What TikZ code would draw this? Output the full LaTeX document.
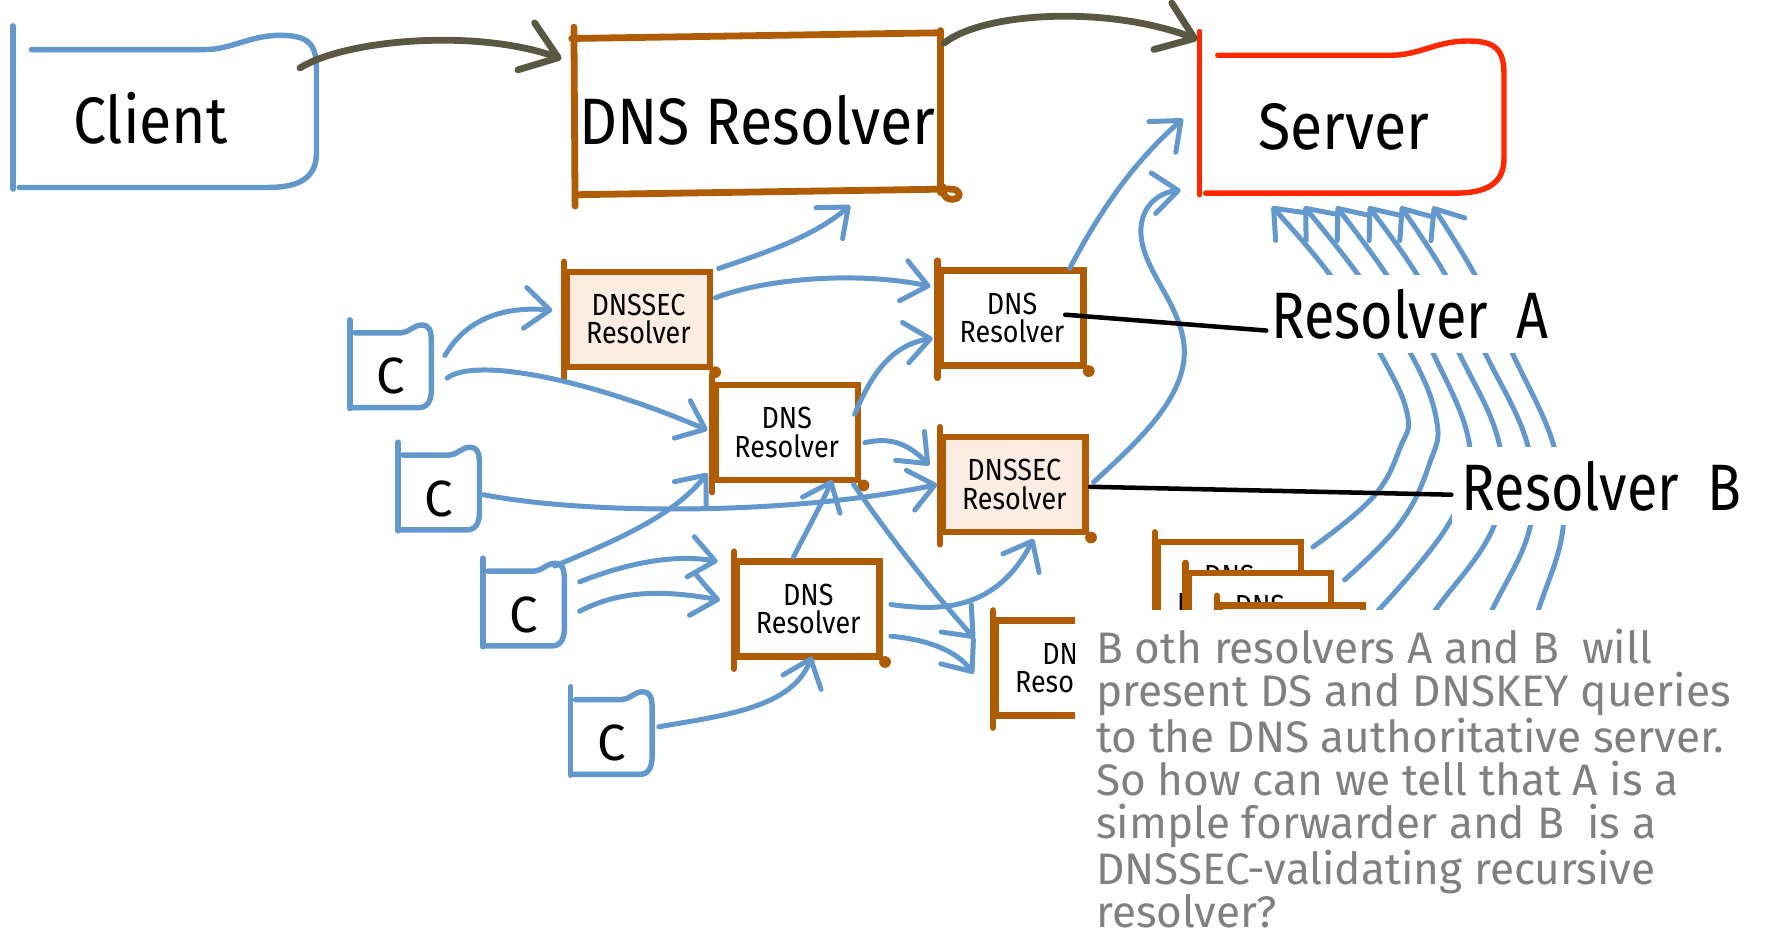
\documentclass[tikz,border=0pt]{standalone}
\usepackage{fontspec}
\setmainfont{Fira Sans}
\usepackage{graphicx}
\usetikzlibrary{arrows.meta}

\definecolor{blu}{RGB}{98,152,204}
\definecolor{brn}{RGB}{176,92,4}
\definecolor{peach}{RGB}{252,236,225}
\definecolor{srv}{RGB}{255,40,0}
\definecolor{olive}{RGB}{90,88,66}
\definecolor{notegray}{RGB}{128,128,128}

% narrow hand-lettered look
\newcommand\hw[2][0.88]{\scalebox{#1}[1]{#2}}

\tikzset{
  bline/.style={draw=blu, line width=2.2pt, line cap=round, line join=round},
  barrow/.style={bline, -{Straight Barb[round,length=11pt,width=18pt]}},
  darrow/.style={draw=olive, line width=3pt, line cap=round, -{Straight Barb[round,length=15pt,width=22pt]}},
  outline/.style={line width=2.4pt, line cap=round, line join=round},
  bigtext/.style={font=\fontsize{29}{30}\selectfont, inner sep=0pt, text depth=0pt},
  rbox/.style={draw=brn, line width=2.8pt, minimum width=63pt, minimum height=42pt,
    inner sep=0pt, align=center, font=\fontsize{13.5}{12.5}\selectfont},
  cbox/.style={minimum width=36pt, minimum height=38pt, inner sep=0pt,
    font=\fontsize{22.5}{24}\selectfont, text height=25.5pt, text depth=0pt},
  leader/.style={draw=black, line width=2pt, line cap=round},
  tag/.style={fill=white, inner sep=0pt, font=\fontsize{29}{30}\selectfont, minimum height=34.5pt},
}

% hand-drawn "folder" outline fitted to a node
\newcommand\folder[4]{%
  \begin{scope}[shift={(#2.north west)}, xscale=#3, yscale=#4]
    \draw[outline, draw=#1] (0,-0.02) -- (0,1.01);
    \draw[outline, draw=#1] (0.06,0.13) -- (0.63,0.13)
      .. controls (0.72,0.13) and (0.78,0.04) .. (0.88,0.04)
      .. controls (0.97,0.04) and (1,0.09) .. (1,0.25) -- (1,0.78)
      .. controls (1,0.93) and (0.95,1) .. (0.84,1) -- (0.02,1);
  \end{scope}}

% resolver box with overshooting left stroke and a knob at the corner
\newcommand\resbox[4]{%
  \node[rbox, fill=#3] (#1) at (#2) {#4};
  \draw[draw=brn, line width=2.8pt, line cap=round] ([yshift=3pt]#1.north west) -- ([yshift=-4pt]#1.south west);
  \fill[brn] ([shift={(1pt,-1pt)}]#1.south east) circle (2.6pt);}

\begin{document}
\begin{tikzpicture}[x=0.5pt, y=-0.5pt]
\path[use as bounding box, fill=white] (0,0) rectangle (1568,826);

% main chain
\node[bigtext, minimum width=134pt, minimum height=70pt, text height=30.5pt] (client) at (146,96) {\hw[0.9]{Client}\hspace*{13pt}};
\folder{blu}{client}{268}{140}

\node[bigtext, minimum width=162pt, minimum height=71pt, text height=27.5pt] (bigres) at (669,100) {\hw[0.9]{DNS Resolver}};
\draw[draw=brn, line width=3pt, line cap=round] (507,24) -- (508,182);
\draw[draw=brn, line width=3pt, line cap=round] (505,34) -- (828,29);
\draw[draw=brn, line width=3pt, line cap=round] (831,27) -- (831,170);
\draw[draw=brn, line width=3pt, line cap=round] (509,172) -- (838,167)
  .. controls (850,166) and (850,177) .. (840,176) .. controls (833,175) and (832,168) .. (833,165);

\node[bigtext, minimum width=134.5pt, minimum height=70pt, text height=31pt] (server) at (1194.5,101) {\hw[0.9]{Server}\hspace*{7.5pt}};
\folder{srv}{server}{269}{140}

% clients
\node[cbox] (c1) at (345.5,322.5) {C};
\folder{blu}{c1}{72}{76}
\node[cbox] (c2) at (388,430.5) {C};
\folder{blu}{c2}{72}{76}
\node[cbox] (c3) at (463,533) {C};
\folder{blu}{c3}{72}{76}
\node[cbox] (c4) at (540.5,646.5) {C};
\folder{blu}{c4}{72}{76}

% resolvers
\resbox{sec1}{564,282}{peach}{\hw{DNSSEC}\\\hw{Resolver}}
\resbox{dnsA}{894,281}{white}{\hw{DNS}\\\hw{Resolver}}
\resbox{dnsM}{695,382}{white}{\hw{DNS}\\\hw{Resolver}}
\resbox{sec2}{896,428}{peach}{\hw{DNSSEC}\\\hw{Resolver}}
\resbox{dnsL}{714,538}{white}{\hw{DNS}\\\hw{Resolver}}
\resbox{dnsH}{943,590}{white}{\hw{DNS}\\\hw{Resolver}}
\resbox{stA}{1086,521}{white}{\hw{DNS}\\\hw{Resolver}}
\resbox{stB}{1113,548}{white}{\hw{DNS}\\\hw{Resolver}}
\resbox{stC}{1141,577}{white}{\hw{DNS}\\\hw{Resolver}}

% top-level flow
\draw[darrow] ([shift={(119,-36)}]client.center) .. controls (305,35) and (420,25) .. ([shift={(-173,-48)}]bigres.center);
\draw[darrow] ([shift={(165,-62)}]bigres.center) .. controls (870,10) and (980,5) .. ([shift={(-136.5,-66)}]server.center);

% client and forwarding queries
\draw[barrow] ([shift={(47.5,-8.5)}]c1.center) .. controls (410,285) and (440,270) .. ([shift={(-76,-8)}]sec1.center);
\draw[barrow] ([shift={(49.5,11.5)}]c1.center) .. controls (420,315) and (520,335) .. ([shift={(-70,-2)}]dnsM.center);
\draw[barrow] ([shift={(39,6.5)}]c2.center) .. controls (520,455) and (700,455) .. ([shift={(-68,0)}]sec2.center);
\draw[barrow] ([shift={(5,0)}]sec1.north east) .. controls (680,222) and (720,208) .. ([shift={(82,10)}]bigres.south);
\draw[barrow] ([shift={(68,-19)}]sec1.center) .. controls (680,245) and (760,240) .. ([shift={(-72,-28)}]dnsA.center);
\draw[barrow] ([shift={(60,-16)}]dnsM.center) .. controls (768,335) and (785,305) .. ([shift={(-70,18)}]dnsA.center);
\draw[barrow] ([shift={(69,9)}]dnsM.center) .. controls (790,385) and (805,395) .. ([shift={(-75,-17)}]sec2.center);
\draw[barrow] ([shift={(27,-33)}]c3.center) .. controls (550,475) and (595,455) .. ([shift={(-70,36)}]dnsM.center);
\draw[barrow] ([shift={(49,-19)}]c3.center) .. controls (560,495) and (600,490) .. ([shift={(-80,-42)}]dnsL.center);
\draw[barrow] ([shift={(49,7)}]c3.center) .. controls (550,520) and (590,522) .. ([shift={(-78,-8)}]dnsL.center);
\draw[barrow] ([shift={(-13,-46)}]dnsL.center) .. controls (712,470) and (726,445) .. ([shift={(40,42)}]dnsM.center);
\draw[barrow] ([shift={(59,46)}]dnsM.center) .. controls (790,480) and (830,530) .. ([shift={(-82,-26)}]dnsH.center);
\draw[barrow] ([shift={(73,-4)}]dnsL.center) .. controls (830,540) and (880,540) .. ([shift={(17,48)}]sec2.center);
\draw[barrow] ([shift={(73,24)}]dnsL.center) .. controls (820,565) and (845,575) .. ([shift={(-83,5)}]dnsH.center);
\draw[barrow] ([shift={(41.5,-4.5)}]c4.center) .. controls (640,632) and (700,625) .. ([shift={(3,42)}]dnsL.center);
\draw[barrow] ([shift={(51,-44)}]dnsA.center) .. controls (975,180) and (1005,140) .. ([shift={(-149.5,4)}]server.center);
\draw[barrow] ([shift={(70,-2)}]sec2.center) .. controls (1005,390) and (1050,350) .. (1046,305)
  .. controls (1042,265) and (1005,235) .. (1008,200) .. controls (1010,180) and (1025,170) .. ([shift={(-151.5,67)}]server.center);

% many resolvers querying the server
\coordinate (f4) at (1241,578);
\coordinate (f5) at (1285,605);
\coordinate (f6) at (1335,610);
\draw[barrow] plot[smooth, tension=0.7] coordinates {([shift={(8,7)}]stA.north east) (1213,439) (1237,395) (1243,365) (1219,312) (1175,243) ([shift={(64,11)}]server.south west)};
\draw[barrow] plot[smooth, tension=0.7] coordinates {([shift={(9,9)}]stB.north east) (1237,462) (1263,409) (1269,371) (1246,312) (1200,243) ([shift={(92.4,11)}]server.south west)};
\draw[barrow] plot[smooth, tension=0.7] coordinates {([shift={(8,10)}]stC.north east) (1279,464) (1299,400) (1266,312) (1225,243) ([shift={(120.8,11)}]server.south west)};
\draw[barrow] plot[smooth, tension=0.7] coordinates {(f4) (1268,539) (1320,464) (1325,395) (1289,312) (1252,243) ([shift={(149.2,11)}]server.south west)};
\draw[barrow] plot[smooth, tension=0.7] coordinates {(f5) (1318,539) (1352,464) (1350,395) (1312,312) (1277,243) ([shift={(177.6,11)}]server.south west)};
\draw[barrow] plot[smooth, tension=0.7] coordinates {(f6) (1359,539) (1381,464) (1373,395) (1336,312) (1303,243) ([shift={(206,11)}]server.south west)};

% labels
\node[tag, minimum width=126.5pt] (labA) at (1245.5,277.5) {\hw[0.85]{Resolver\hspace{15pt}A}};
\node[tag, minimum width=132.5pt] (labB) at (1415,429.5) {\hw[0.85]{Resolver\hspace{15pt}B}};
\draw[leader] ([shift={(47,-3)}]dnsA.center) -- ([shift={(0,14.5)}]labA.west);
\draw[leader] ([shift={(67,2)}]sec2.center) -- ([shift={(0,7.5)}]labB.west);

% note
\fill[white] (950,539) rectangle (1568,826);
\node[anchor=north west, align=left, inner sep=0pt, text=notegray, font=\fontsize{19.5}{19}\selectfont] (note) at (968,555)
  {B oth resolvers A and B\ \ will\\
   present DS and DNSKEY queries\\
   to the DNS authoritative server.\\
   So how can we tell that A is a\\
   simple forwarder and B\ \ is a\\
   DNSSEC-validating recursive\\
   resolver?};
\end{tikzpicture}
\end{document}
